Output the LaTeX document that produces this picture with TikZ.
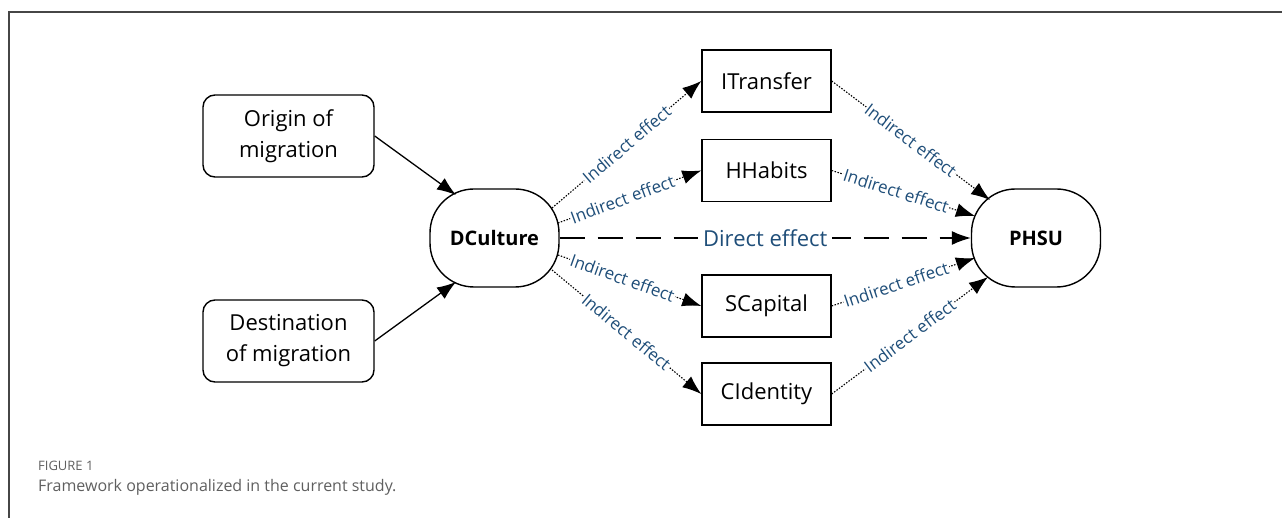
\documentclass[tikz,border=0pt]{standalone}
\usepackage{fontspec}
\setmainfont{Open Sans}
\usetikzlibrary{arrows.meta,calc}
\definecolor{lblue}{RGB}{31,78,121}
\definecolor{capgray}{RGB}{95,95,95}
\definecolor{framegray}{RGB}{70,70,70}
\begin{document}
\begin{tikzpicture}[x=1pt,y=-1pt,
  rbox/.style={draw, line width=1.4pt, rounded corners=12pt, minimum width=171pt, minimum height=82pt, align=center, font=\fontsize{22}{31}\selectfont},
  sbox/.style={draw, line width=1.4pt, minimum width=129pt, minimum height=62pt, font=\fontsize{22}{25}\selectfont},
  oval/.style={draw, line width=1.4pt, rounded corners=44pt, minimum width=129pt, minimum height=98pt, font=\fontsize{20}{25}\selectfont\bfseries},
  solidarrow/.style={-{Latex[length=19pt,width=14pt]}, line width=1.3pt},
  dotarrow/.style={-{Latex[length=19pt,width=14pt]}, line width=1.1pt, dash pattern=on 1.5pt off 1.5pt},
  dasharrow/.style={-{Latex[length=19pt,width=14pt]}, line width=1.3pt, dash pattern=on 25pt off 13pt},
  eff/.style={sloped, fill=white, inner sep=1pt, text=lblue, font=\fontsize{17}{17}\selectfont},
  direff/.style={fill=white, inner xsep=5pt, inner ysep=1pt, text=lblue, font=\fontsize{22}{22}\selectfont},
  capsmall/.style={anchor=base west, inner sep=0pt, text=capgray, font=\fontsize{13}{13}\selectfont},
  caplarge/.style={anchor=base west, inner sep=0pt, text=capgray, font=\fontsize{16}{16}\selectfont},
]
\useasboundingbox (0,0) rectangle (1282,518);
\draw[line width=1.2pt, framegray] (1282,12) -- (9,12) -- (9,518);

\node[rbox] (origin) at (288.5,136) {Origin of\\migration};
\node[rbox] (dest) at (288.5,341) {Destination\\of migration};
\node[oval] (dc) at (494.5,238) {DCulture};
\node[oval] (phsu) at (1036,238) {PHSU};
\node[sbox] (it) at (766.5,81) {ITransfer};
\node[sbox] (hh) at (766.5,170.5) {HHabits};
\node[sbox] (sc) at (766.5,306) {SCapital};
\node[sbox] (ci) at (766.5,394) {CIdentity};

\draw[solidarrow] (origin.east) -- ([shift={(-38.5,-43)}]dc.center);
\draw[solidarrow] (dest.east) -- ([shift={(-38.5,44)}]dc.center);

\draw[dotarrow] ([shift={(57.5,-30)}]dc.center) -- node[eff, pos=0.5] {Indirect effect} (it.west);
\draw[dotarrow] ([shift={(63.5,-15)}]dc.center) -- node[eff, pos=0.45] {Indirect effect} (hh.west);
\draw[dotarrow] ([shift={(63.5,17)}]dc.center) -- node[eff, pos=0.45] {Indirect effect} (sc.west);
\draw[dotarrow] ([shift={(57.5,32)}]dc.center) -- node[eff, pos=0.5] {Indirect effect} (ci.west);

\draw[dasharrow] (dc.east) -- node[direff] {Direct effect} (phsu.west);

\draw[dotarrow] (it.east) -- node[eff, pos=0.5] {Indirect effect} ([shift={(-46,-38)}]phsu.center);
\draw[dotarrow] (hh.east) -- node[eff, pos=0.45] {Indirect effect} ([shift={(-61,-22)}]phsu.center);
\draw[dotarrow] (sc.east) -- node[eff, pos=0.45] {Indirect effect} ([shift={(-61,20)}]phsu.center);
\draw[dotarrow] (ci.east) -- node[eff, pos=0.5] {Indirect effect} ([shift={(-48,39)}]phsu.center);

\node[capsmall] (fig) at (38,470) {FIGURE 1};
\node[caplarge] (cap) at (38,491) {Framework operationalized in the current study.};
\end{tikzpicture}
\end{document}
